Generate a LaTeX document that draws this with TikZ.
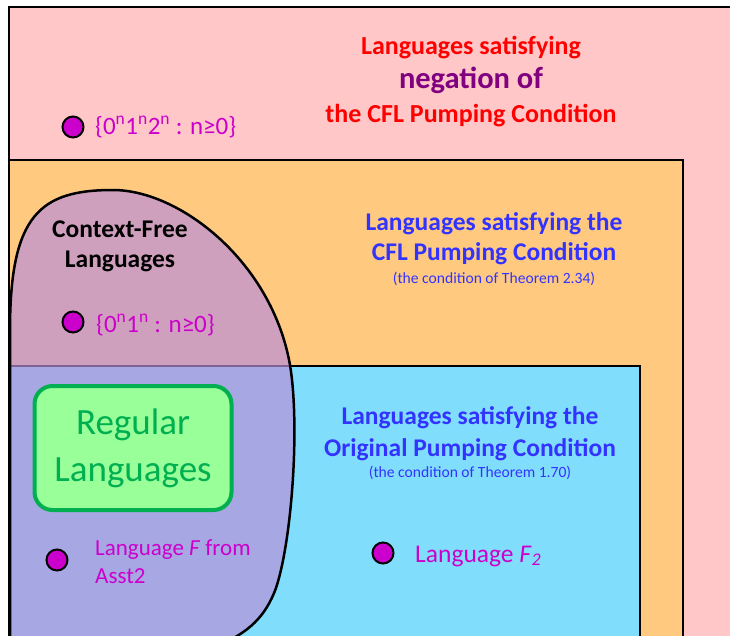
\documentclass[tikz,border=0pt]{standalone}
\usepackage{fontspec}
\setmainfont{Carlito}
\definecolor{pinkbg}{HTML}{FFC7C7}
\definecolor{orangebg}{HTML}{FFCA80}
\definecolor{bluebg}{HTML}{80DEFC}
\definecolor{cflfill}{HTML}{BA8EDA}
\definecolor{regfill}{HTML}{99FF99}
\definecolor{reggreen}{HTML}{00B050}
\definecolor{dotpurple}{HTML}{CC00CC}
\definecolor{negred}{HTML}{FF0000}
\definecolor{negpurple}{HTML}{800080}
\definecolor{condblue}{HTML}{3333FF}
\tikzset{
  region/.style={draw=black,line width=2.5pt},
  hdr/.style={anchor=base,inner sep=0pt,font=\bfseries\fontsize{25.5}{30}\selectfont},
  subhdr/.style={anchor=base,inner sep=0pt,text=condblue,font=\fontsize{15.6}{18}\selectfont},
  member/.style={circle,draw=black,line width=2pt,fill=dotpurple,minimum size=21pt,inner sep=0pt},
  memberlabel/.style={anchor=base west,inner sep=0pt,text=dotpurple,font=\fontsize{23}{28}\selectfont},
}
\begin{document}
\begin{tikzpicture}[x=1pt,y=-1pt]
  \useasboundingbox (0,0) rectangle (730,635);
  \fill[white] (0,0) rectangle (730,635);
  \clip (0,0) rectangle (730,635);
  \draw[region,fill=pinkbg] (9,7) rectangle (780,700);
  \draw[region,fill=orangebg] (9,160) rectangle (683,700);
  \draw[region,fill=bluebg] (9,366) rectangle (640,700);
  \draw[black,line width=2.5pt,fill=cflfill,fill opacity=0.685]
    (10,700) -- (10,330) .. controls (10,215) and (40,190) .. (113,190)
    .. controls (180,190) and (272,262) .. (290,365)
    .. controls (300,425) and (292,540) .. (276,588)
    .. controls (265,618) and (248,632) .. (220,645) -- (220,700) -- cycle;
  \node[hdr,text=negred,font=\bfseries\fontsize{26}{30}\selectfont] (neg1) at (471,54) {Languages satisfying};
  \node[hdr,text=negpurple,font=\bfseries\fontsize{30.5}{36}\selectfont] (neg2) at (471,88) {negation of};
  \node[hdr,text=negred,font=\bfseries\fontsize{26}{30}\selectfont] (neg3) at (471,122) {the CFL Pumping Condition};
  \node[hdr,text=condblue] (cfl1) at (494,230) {Languages satisfying the};
  \node[hdr,text=condblue] (cfl2) at (494,260) {CFL Pumping Condition};
  \node[subhdr] (cfl3) at (494,283) {(the condition of Theorem 2.34)};
  \node[hdr,text=condblue] (orig1) at (470,424) {Languages satisfying the};
  \node[hdr,text=condblue] (orig2) at (470,456) {Original Pumping Condition};
  \node[subhdr] (orig3) at (470,477) {(the condition of Theorem 1.70)};
  \node[hdr] (cf1) at (120,237) {Context-Free};
  \node[hdr] (cf2) at (120,267) {Languages};
  \node[draw=reggreen,line width=4pt,fill=regfill,rounded corners=18pt,
    minimum width=197pt,minimum height=124pt,align=center,text=reggreen,
    font=\fontsize{37}{47}\selectfont] (reg) at (133,448) {Regular\\Languages};
  \node[member] (abc) at (73,127) {};
  \node[memberlabel,font=\fontsize{25}{30}\selectfont] (abclabel) at (95,134) {\{0\textsuperscript{n}1\textsuperscript{n}2\textsuperscript{n} : n≥0\}};
  \node[member] (ab) at (73,322) {};
  \node[memberlabel,font=\fontsize{25}{30}\selectfont] (ablabel) at (96,332) {\{0\textsuperscript{n}1\textsuperscript{n} : n≥0\}};
  \node[member] (f) at (57,560) {};
  \node[memberlabel] (flabel) at (95,555) {Language \textit{F} from};
  \node[memberlabel] (flabel2) at (95,583) {Asst2};
  \node[member] (ftwo) at (383,553) {};
  \node[memberlabel,font=\fontsize{25.5}{30}\selectfont] (ftwolabel) at (415,562) {Language \textit{F}\textsubscript{\textit{2}}};
\end{tikzpicture}
\end{document}
